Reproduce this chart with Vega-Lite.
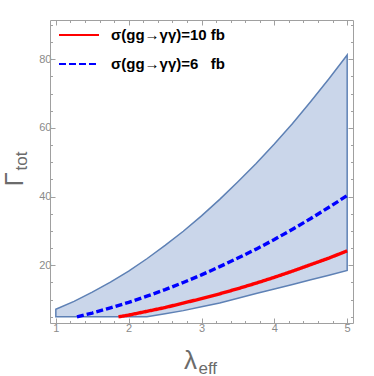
{
  "$schema": "https://vega.github.io/schema/vega-lite/v6.json",
  "width": 303,
  "height": 303,
  "autosize": "none",
  "padding": {"left": 50, "top": 20, "right": 21, "bottom": 53},
  "background": "white",
  "config": {
    "view": {"stroke": null},
    "axis": {
      "grid": false,
      "domainColor": "#a0a0a0",
      "tickColor": "#a0a0a0",
      "domainWidth": 1,
      "tickWidth": 1,
      "labelFont": "Liberation Sans",
      "labelFontSize": 11,
      "labelColor": "#8a8a8a",
      "titleFont": "Liberation Sans",
      "titleFontWeight": "normal",
      "titleColor": "#6b6b6b"
    }
  },
  "datasets": {
    "region": [
      {"lambda": 1.0, "lo": 5.0, "hi": 7.2},
      {"lambda": 1.25, "lo": 5.0, "hi": 9.5},
      {"lambda": 1.5, "lo": 5.0, "hi": 12.2},
      {"lambda": 1.75, "lo": 5.0, "hi": 15.1},
      {"lambda": 2.0, "lo": 5.0, "hi": 18.3},
      {"lambda": 2.25, "lo": 5.0, "hi": 21.9},
      {"lambda": 2.5, "lo": 5.9, "hi": 25.8},
      {"lambda": 2.75, "lo": 6.8, "hi": 29.9},
      {"lambda": 3.0, "lo": 7.9, "hi": 34.4},
      {"lambda": 3.25, "lo": 9.0, "hi": 39.2},
      {"lambda": 3.5, "lo": 10.4, "hi": 44.3},
      {"lambda": 3.75, "lo": 11.8, "hi": 49.6},
      {"lambda": 4.0, "lo": 13.1, "hi": 55.3},
      {"lambda": 4.25, "lo": 14.4, "hi": 61.3},
      {"lambda": 4.5, "lo": 15.8, "hi": 67.7},
      {"lambda": 4.75, "lo": 17.1, "hi": 74.3},
      {"lambda": 5.0, "lo": 18.5, "hi": 81.2}
    ],
    "lines": [
      {"lambda": 1.86, "gamma": 5.0, "series": "σ(gg→γγ)=10 fb"},
      {"lambda": 2.0, "gamma": 5.5, "series": "σ(gg→γγ)=10 fb"},
      {"lambda": 2.25, "gamma": 6.6, "series": "σ(gg→γγ)=10 fb"},
      {"lambda": 2.5, "gamma": 7.7, "series": "σ(gg→γγ)=10 fb"},
      {"lambda": 2.75, "gamma": 9.0, "series": "σ(gg→γγ)=10 fb"},
      {"lambda": 3.0, "gamma": 10.3, "series": "σ(gg→γγ)=10 fb"},
      {"lambda": 3.25, "gamma": 11.7, "series": "σ(gg→γγ)=10 fb"},
      {"lambda": 3.5, "gamma": 13.2, "series": "σ(gg→γγ)=10 fb"},
      {"lambda": 3.75, "gamma": 14.8, "series": "σ(gg→γγ)=10 fb"},
      {"lambda": 4.0, "gamma": 16.5, "series": "σ(gg→γγ)=10 fb"},
      {"lambda": 4.25, "gamma": 18.3, "series": "σ(gg→γγ)=10 fb"},
      {"lambda": 4.5, "gamma": 20.2, "series": "σ(gg→γγ)=10 fb"},
      {"lambda": 4.75, "gamma": 22.1, "series": "σ(gg→γγ)=10 fb"},
      {"lambda": 5.0, "gamma": 24.2, "series": "σ(gg→γγ)=10 fb"},
      {"lambda": 1.29, "gamma": 5.0, "series": "σ(gg→γγ)=6\u00a0\u00a0\u00a0fb"},
      {"lambda": 1.5, "gamma": 6.1, "series": "σ(gg→γγ)=6\u00a0\u00a0\u00a0fb"},
      {"lambda": 1.75, "gamma": 7.6, "series": "σ(gg→γγ)=6\u00a0\u00a0\u00a0fb"},
      {"lambda": 2.0, "gamma": 9.2, "series": "σ(gg→γγ)=6\u00a0\u00a0\u00a0fb"},
      {"lambda": 2.25, "gamma": 11.0, "series": "σ(gg→γγ)=6\u00a0\u00a0\u00a0fb"},
      {"lambda": 2.5, "gamma": 12.9, "series": "σ(gg→γγ)=6\u00a0\u00a0\u00a0fb"},
      {"lambda": 2.75, "gamma": 15.0, "series": "σ(gg→γγ)=6\u00a0\u00a0\u00a0fb"},
      {"lambda": 3.0, "gamma": 17.2, "series": "σ(gg→γγ)=6\u00a0\u00a0\u00a0fb"},
      {"lambda": 3.25, "gamma": 19.6, "series": "σ(gg→γγ)=6\u00a0\u00a0\u00a0fb"},
      {"lambda": 3.5, "gamma": 22.1, "series": "σ(gg→γγ)=6\u00a0\u00a0\u00a0fb"},
      {"lambda": 3.75, "gamma": 24.7, "series": "σ(gg→γγ)=6\u00a0\u00a0\u00a0fb"},
      {"lambda": 4.0, "gamma": 27.5, "series": "σ(gg→γγ)=6\u00a0\u00a0\u00a0fb"},
      {"lambda": 4.25, "gamma": 30.5, "series": "σ(gg→γγ)=6\u00a0\u00a0\u00a0fb"},
      {"lambda": 4.5, "gamma": 33.6, "series": "σ(gg→γγ)=6\u00a0\u00a0\u00a0fb"},
      {"lambda": 4.75, "gamma": 36.9, "series": "σ(gg→γγ)=6\u00a0\u00a0\u00a0fb"},
      {"lambda": 5.0, "gamma": 40.3, "series": "σ(gg→γγ)=6\u00a0\u00a0\u00a0fb"}
    ]
  },
  "resolve": {"axis": {"x": "independent", "y": "independent"}},
  "layer": [
    {
      "data": {"name": "region"},
      "mark": {"type": "area", "fill": "#cad6ea", "opacity": 1},
      "encoding": {
        "x": {
          "field": "lambda", "type": "quantitative",
          "scale": {"domain": [0.92, 5.08], "nice": false, "zero": false},
          "axis": {
            "orient": "bottom",
            "values": [1,1.2,1.4,1.6,1.8,2,2.2,2.4,2.6,2.8,3,3.2,3.4,3.6,3.8,4,4.2,4.4,4.6,4.8,5],
            "labelExpr": "abs(datum.value - round(datum.value)) < 0.001 ? format(datum.value, 'd') : ''",
            "tickSize": {"condition": {"test": "abs(datum.value - round(datum.value)) < 0.001", "value": -5}, "value": -2.5},
            "labelPadding": 4,
            "labelFlush": false,
            "labelOverlap": false,
            "title": "λ",
            "titleFontSize": 26,
            "titleX": 140,
            "titleY": 45,
            "titleAlign": "center",
            "titleBaseline": "alphabetic"
          }
        },
        "y": {
          "field": "hi", "type": "quantitative",
          "scale": {"domain": [3.2, 91.4], "nice": false, "zero": false},
          "axis": {
            "orient": "left",
            "values": [5,10,15,20,25,30,35,40,45,50,55,60,65,70,75,80,85,90],
            "labelExpr": "datum.value % 20 === 0 ? format(datum.value, 'd') : ''",
            "tickSize": {"condition": {"test": "datum.value % 20 === 0", "value": -5}, "value": -2.5},
            "labelPadding": 4,
            "labelFlush": false,
            "labelOverlap": false,
            "title": "Γ",
            "titleFontSize": 26,
            "titleAngle": -90,
            "titleX": -28,
            "titleY": 166,
            "titleAlign": "left",
            "titleBaseline": "alphabetic"
          }
        },
        "y2": {"field": "lo"}
      }
    },
    {
      "data": {"name": "region"},
      "mark": {"type": "area", "fillOpacity": 0, "stroke": "#5e81b5", "strokeWidth": 1.5},
      "encoding": {
        "x": {
          "field": "lambda", "type": "quantitative",
          "axis": {
            "orient": "bottom", "domain": false, "ticks": false, "labels": false,
            "title": "eff", "titleFontSize": 17,
            "titleX": 148, "titleY": 50,
            "titleAlign": "left", "titleBaseline": "alphabetic"
          }
        },
        "y": {
          "field": "hi", "type": "quantitative",
          "axis": {
            "orient": "left", "domain": false, "ticks": false, "labels": false,
            "title": "tot", "titleFontSize": 17, "titleAngle": -90,
            "titleX": -24, "titleY": 150,
            "titleAlign": "left", "titleBaseline": "alphabetic"
          }
        },
        "y2": {"field": "lo"}
      }
    },
    {
      "data": {"name": "lines"},
      "mark": {"type": "line", "strokeWidth": 3.4},
      "encoding": {
        "x": {
          "field": "lambda", "type": "quantitative",
          "axis": {
            "orient": "top", "labels": false, "title": null,
            "values": [1,1.2,1.4,1.6,1.8,2,2.2,2.4,2.6,2.8,3,3.2,3.4,3.6,3.8,4,4.2,4.4,4.6,4.8,5],
            "tickSize": {"condition": {"test": "abs(datum.value - round(datum.value)) < 0.001", "value": -5}, "value": -2.5}
          }
        },
        "y": {
          "field": "gamma", "type": "quantitative",
          "axis": {
            "orient": "right", "labels": false, "title": null,
            "values": [5,10,15,20,25,30,35,40,45,50,55,60,65,70,75,80,85,90],
            "tickSize": {"condition": {"test": "datum.value % 20 === 0", "value": -5}, "value": -2.5}
          }
        },
        "color": {
          "field": "series", "type": "nominal",
          "scale": {"domain": ["σ(gg→γγ)=10 fb", "σ(gg→γγ)=6\u00a0\u00a0\u00a0fb"], "range": ["#ff0000", "#0000ff"]},
          "legend": {
            "title": null,
            "orient": "none",
            "legendX": 8,
            "legendY": -6,
            "padding": 0,
            "symbolType": "stroke",
            "symbolSize": 1600,
            "symbolStrokeWidth": 2,
            "labelFont": "Liberation Sans",
            "labelFontSize": 15,
            "labelFontWeight": "bold",
            "labelColor": "#000000",
            "labelOffset": 11,
            "rowPadding": -4,
            "labelLimit": 300
          }
        },
        "strokeDash": {
          "field": "series", "type": "nominal",
          "scale": {"domain": ["σ(gg→γγ)=10 fb", "σ(gg→γγ)=6\u00a0\u00a0\u00a0fb"], "range": [[1, 0], [7, 3]]},
          "legend": null
        }
      }
    }
  ]
}
